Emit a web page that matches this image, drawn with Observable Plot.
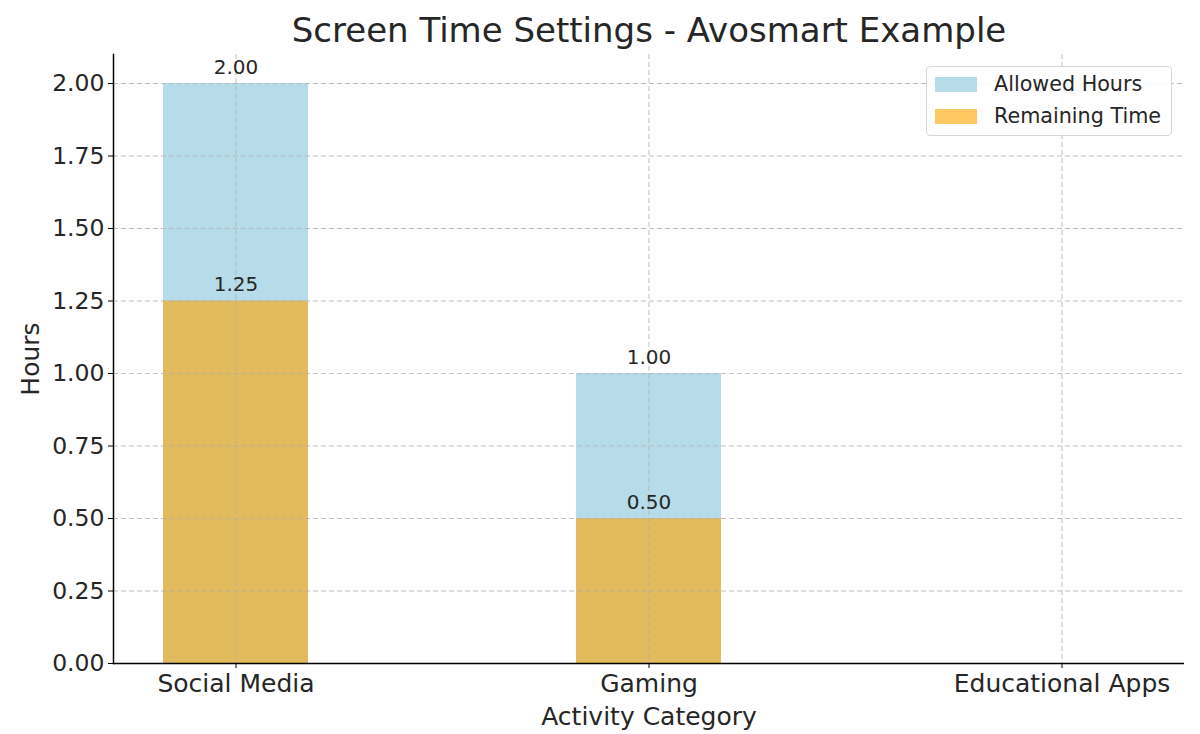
<!DOCTYPE html>
<html>
<head>
<meta charset="utf-8">
<script src="https://cdn.jsdelivr.net/npm/d3@7"></script>
<script src="https://cdn.jsdelivr.net/npm/@observablehq/plot@0.6"></script>
<style>
  html, body { margin: 0; padding: 0; background: #fff; }
  #wrap { position: relative; width: 1200px; height: 734px; font-family: "DejaVu Sans", sans-serif; color: #262626; }
  #legend { position: absolute; left: 926px; top: 66px; width: 246px; height: 70px; box-sizing: border-box;
            border: 1px solid #d6d6d6; border-radius: 4px; background: rgba(255,255,255,0.85); font-size: 20.7px; }
  .row { position: absolute; left: 8px; display: flex; align-items: center; height: 24px; }
  .sw { width: 42px; height: 15px; margin-right: 17px; }
</style>
</head>
<body>
<div id="wrap"></div>
<script>
const categories = ["Social Media", "Gaming", "Educational Apps"];
const allowedHours = [2.00, 1.00, 0];
const remainingTime = [1.25, 0.50, 0];
const yTicks = [0, 0.25, 0.5, 0.75, 1.0, 1.25, 1.5, 1.75, 2.0];
const seriesNames = ["Allowed Hours", "Remaining Time"];
const title = "Screen Time Settings - Avosmart Example";
const xLabel = "Activity Category";
const yLabel = "Hours";

const blue = "#ADD8E6", orange = "orange";
const textColor = "#262626";
const gridStyle = {stroke: "#b0b0b0", strokeOpacity: 0.8, strokeDasharray: "5,3", strokeWidth: 1};

const data = categories.map((c, i) => ({category: c, allowed: allowedHours[i], remaining: remainingTime[i]}));

const chart = Plot.plot({
  width: 1200,
  height: 734,
  marginLeft: 113,
  marginRight: 16,
  marginTop: 54,
  marginBottom: 71,
  style: {fontFamily: "DejaVu Sans, sans-serif", fontSize: "23.5px", color: textColor, background: "#fff"},
  x: {domain: categories, paddingInner: 0.649, paddingOuter: 0.12, label: null},
  y: {domain: [0, 2.1], label: null},
  marks: [
    Plot.barY(data, {x: "category", y: "allowed", fill: blue, fillOpacity: 0.9}),
    Plot.barY(data, {x: "category", y: "remaining", fill: orange, fillOpacity: 0.6}),
    Plot.gridY(yTicks, gridStyle),
    Plot.gridX(categories, gridStyle),
    Plot.text(data.filter(d => d.allowed > 0), {x: "category", y: "allowed", text: d => d.allowed.toFixed(2),
      lineAnchor: "bottom", dy: -10, fontSize: 20, fill: textColor}),
    Plot.text(data.filter(d => d.remaining > 0), {x: "category", y: "remaining", text: d => d.remaining.toFixed(2),
      lineAnchor: "bottom", dy: -10, fontSize: 20, fill: textColor}),
    Plot.axisY(yTicks, {tickFormat: d3.format(".2f"), tickSize: 5, tickPadding: 4, label: null, stroke: "#000", fill: textColor}),
    Plot.axisX({tickSize: 5, tickPadding: 6, label: null, stroke: "#000", fill: textColor, fontSize: 25}),
    Plot.ruleY([0], {stroke: "#000", strokeWidth: 1.5}),
    Plot.frame({anchor: "left", stroke: "#000", strokeWidth: 1.5}),
    Plot.text([title], {frameAnchor: "top", dy: -23, fontSize: 34, lineAnchor: "middle", fill: textColor}),
    Plot.text([xLabel], {frameAnchor: "bottom", dy: 53, fontSize: 25, lineAnchor: "middle", fill: textColor}),
    Plot.text([yLabel], {frameAnchor: "left", dx: -83, rotate: -90, textAnchor: "middle", fontSize: 25, lineAnchor: "middle", fill: textColor})
  ]
});

const wrap = document.getElementById("wrap");
wrap.appendChild(chart);

const legend = document.createElement("div");
legend.id = "legend";
const swatchColors = [
  {fill: blue, op: 0.9},
  {fill: orange, op: 0.62}
];
seriesNames.forEach((name, i) => {
  const row = document.createElement("div");
  row.className = "row";
  row.style.top = (5 + i * 32) + "px";
  const sw = document.createElement("div");
  sw.className = "sw";
  sw.style.background = swatchColors[i].fill;
  sw.style.opacity = swatchColors[i].op;
  const lab = document.createElement("span");
  lab.textContent = name;
  row.appendChild(sw);
  row.appendChild(lab);
  legend.appendChild(row);
});
wrap.appendChild(legend);
</script>
</body>
</html>
